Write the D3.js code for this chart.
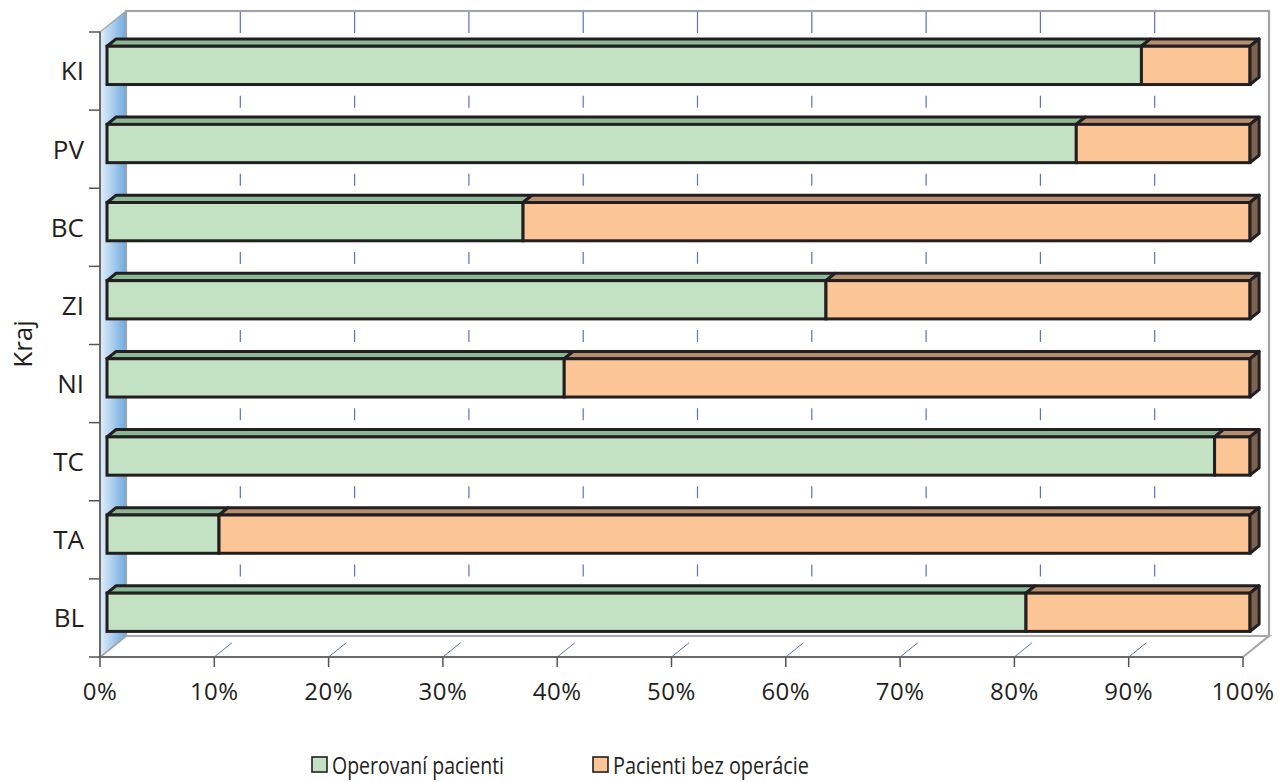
<!DOCTYPE html>
<html><head><meta charset="utf-8">
<script src="https://cdn.jsdelivr.net/npm/d3@7"></script>
<style>html,body{margin:0;padding:0;background:#fff;}svg{display:block;}</style>
</head><body>
<svg id="chart" width="1279" height="782"></svg>
<script>
const categories = ["KI","PV","BC","ZI","NI","TC","TA","BL"];
const operovani = [90.5, 84.8, 36.4, 62.9, 40.0, 96.9, 9.8, 80.4];
const bezOperacie = [9.5, 15.2, 63.6, 37.1, 60.0, 3.1, 90.2, 19.6];
const xTicks = [0,10,20,30,40,50,60,70,80,90,100];
const xTickLabels = ["0%","10%","20%","30%","40%","50%","60%","70%","80%","90%","100%"];
const seriesNames = ["Operovaní pacienti","Pacienti bez operácie"];
const axisTitle = "Kraj";

const svg = d3.select("#chart");
const FONT = "'Open Sans', 'Noto Sans', sans-serif";
const DX = 26, DY = -21;          // depth offset of the plot box
const F0 = 0.27, F1 = 0.62;        // bar depth range
const x = d3.scaleLinear().domain([0,100]).range([100,1243]);
const y = d3.scaleBand().domain(categories).range([32,657]).paddingInner(0).paddingOuter(0);
const bw = y.bandwidth();
const barH = bw*0.49;
const colors = {
  gFront:"#c3e2c3", gTop:"#8bb995",
  oFront:"#fcc595", oTop:"#b78e6e", oSide:"#7c6450"
};
const x0 = x(0), x1 = x(100), yTop = y.range()[0], yBot = y.range()[1];

const defs = svg.append("defs");
const lg = defs.append("linearGradient").attr("id","wallGrad").attr("x1","0").attr("x2","1").attr("y1","0").attr("y2","0");
lg.append("stop").attr("offset","0").attr("stop-color","#e2effb");
lg.append("stop").attr("offset","1").attr("stop-color","#6fa9df");

// back wall
svg.append("rect").attr("x",x0+DX).attr("y",yTop+DY).attr("width",x1-x0).attr("height",yBot-yTop)
  .attr("fill","#fff").attr("stroke","#a3a3a3").attr("stroke-width",2.2);
// floor
svg.append("path").attr("d",`M${x0},${yBot}L${x0+DX},${yBot+DY}L${x1+DX},${yBot+DY}L${x1},${yBot}Z`)
  .attr("fill","#fff").attr("stroke","#a8a8a8").attr("stroke-width",2.2);
// left wall
svg.append("path").attr("d",`M${x0},${yTop}L${x0+DX},${yTop+DY}L${x0+DX},${yBot+DY}L${x0},${yBot}Z`)
  .attr("fill","url(#wallGrad)").attr("stroke","#a3a3a3").attr("stroke-width",1.2);

// gridlines on back wall (visible parts between bars)
const gridTicks = xTicks.filter(t=>t>0 && t<100);
gridTicks.forEach(t=>{
  const gx = x(t)+DX;
  svg.append("line").attr("x1",gx).attr("x2",gx).attr("y1",yTop+DY+1).attr("y2",yTop+1)
    .attr("stroke","#5a72c0").attr("stroke-width",1.2);
  categories.slice(1).forEach(c=>{
    const cy = y(c) - 8.5;
    svg.append("line").attr("x1",gx).attr("x2",gx).attr("y1",cy-6).attr("y2",cy+6)
      .attr("stroke","#5a72c0").attr("stroke-width",1.2);
  });
  svg.append("line").attr("x1",x(t)).attr("y1",yBot).attr("x2",x(t)+0.68*DX).attr("y2",yBot+0.68*DY)
    .attr("stroke","#5a72c0").attr("stroke-width",1);
});

// axes lines
svg.append("line").attr("x1",x0).attr("x2",x1).attr("y1",yBot).attr("y2",yBot).attr("stroke","#6b6b6b").attr("stroke-width",2);
svg.append("line").attr("x1",x0).attr("x2",x0).attr("y1",yTop).attr("y2",yBot).attr("stroke","#6b6b6b").attr("stroke-width",2);
xTicks.forEach(t=>{
  svg.append("line").attr("x1",x(t)).attr("x2",x(t)).attr("y1",yBot).attr("y2",yBot+10).attr("stroke","#555").attr("stroke-width",1.5);
});
categories.forEach(c=>{
  svg.append("line").attr("x1",x0-11).attr("x2",x0).attr("y1",y(c)).attr("y2",y(c)).attr("stroke","#555").attr("stroke-width",1.5);
});
svg.append("line").attr("x1",x0-11).attr("x2",x0).attr("y1",yBot).attr("y2",yBot).attr("stroke","#555").attr("stroke-width",1.5);

// bars
const ddx = (F1-F0)*DX, ddy = (F1-F0)*DY;
const STROKE = "#231f20", SW = 3;
categories.forEach((c,i)=>{
  const yt = y(c) + bw/2 - barH/2 + F0*DY;
  const yb = yt + barH;
  const segs = [
    {a:0, b:operovani[i], front:colors.gFront, top:colors.gTop},
    {a:operovani[i], b:operovani[i]+bezOperacie[i], front:colors.oFront, top:colors.oTop}
  ];
  const g = svg.append("g");
  segs.forEach((s,k)=>{
    const xa = x(s.a)+F0*DX, xb = x(s.b)+F0*DX;
    g.append("path").attr("d",`M${xa},${yt}L${xa+ddx},${yt+ddy}L${xb+ddx},${yt+ddy}L${xb},${yt}Z`)
      .attr("fill",s.top).attr("stroke",STROKE).attr("stroke-width",SW).attr("stroke-linejoin","round");
    g.append("rect").attr("x",xa).attr("y",yt).attr("width",xb-xa).attr("height",barH)
      .attr("fill",s.front).attr("stroke",STROKE).attr("stroke-width",SW);
    if(k===segs.length-1){
      g.append("path").attr("d",`M${xb},${yt}L${xb+ddx},${yt+ddy}L${xb+ddx},${yb+ddy}L${xb},${yb}Z`)
        .attr("fill",colors.oSide).attr("stroke",STROKE).attr("stroke-width",SW).attr("stroke-linejoin","round");
    }
  });
});

// category labels
categories.forEach(c=>{
  svg.append("text").attr("x",84).attr("y",y(c)+bw/2).attr("dy","0.36em")
    .attr("text-anchor","end").attr("font-family",FONT).attr("font-size",26).attr("fill","#231f20").text(c);
});
// x tick labels
xTicks.forEach((t,i)=>{
  svg.append("text").attr("x",x(t)).attr("y",700).attr("text-anchor","middle")
    .attr("font-family",FONT).attr("font-size",24).attr("letter-spacing",0.5).attr("fill","#231f20").text(xTickLabels[i]);
});
// axis title
svg.append("text").attr("transform","translate(32,344) rotate(-90)").attr("text-anchor","middle")
  .attr("font-family",FONT).attr("font-size",26).attr("fill","#231f20").text(axisTitle);

// legend
const legendX = [312, 593];
const legendW = [172, 196];
const legendCols = [colors.gFront, colors.oFront];
seriesNames.forEach((n,i)=>{
  svg.append("rect").attr("x",legendX[i]).attr("y",757).attr("width",15).attr("height",15)
    .attr("fill",legendCols[i]).attr("stroke",STROKE).attr("stroke-width",1.6);
  svg.append("text").attr("x",legendX[i]+20).attr("y",774).attr("font-family",FONT).attr("font-size",24)
    .attr("textLength",legendW[i]).attr("lengthAdjust","spacingAndGlyphs")
    .attr("fill","#231f20").text(n);
});
</script>
</body></html>
